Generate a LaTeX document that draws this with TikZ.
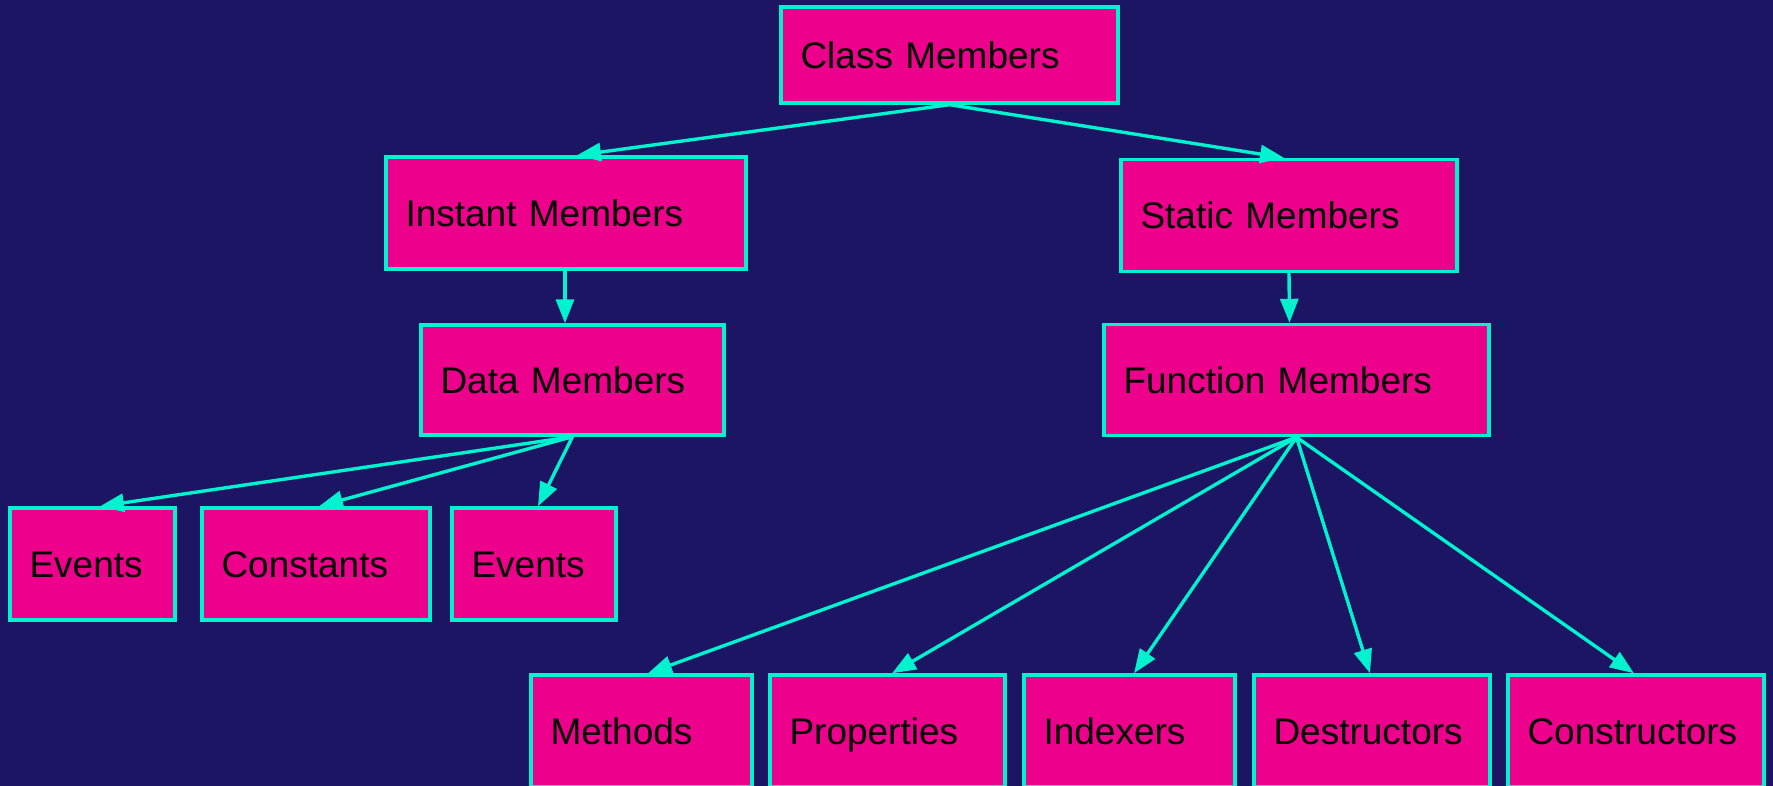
\documentclass[tikz,border=0pt]{standalone}
\usepackage{fontspec}
\setmainfont{Liberation Sans}
\usetikzlibrary{arrows.meta}
\definecolor{bgnavy}{HTML}{1B1564}
\definecolor{boxpink}{HTML}{EC008C}
\definecolor{edgeaqua}{HTML}{00F2CE}
\begin{document}
\begin{tikzpicture}[x=0.5pt,y=-0.5pt,
  member/.style={draw=edgeaqua, fill=boxpink, line width=1.7pt, rectangle,
    inner xsep=9pt, inner ysep=0pt, align=left, text=black,
    font=\fontsize{18.5}{22}\selectfont, minimum height=56pt,
    text height=17.3pt, text depth=4pt},
  link/.style={draw=edgeaqua, line width=1.7pt,
    -{Triangle[length=12pt,width=9pt]}}]
  % canvas
  \fill[bgnavy] (0,0) rectangle (1773,786);
  \clip (0,0) rectangle (1773,786);

  % hierarchy of members
  \node[member, minimum width=168.5pt, minimum height=48pt, text width=149pt] (cm) at (949.5,55) {Class Members};
  \node[member, minimum width=180pt, text width=160.5pt] (im) at (566,213) {Instant Members};
  \node[member, minimum width=168pt, text width=148.5pt] (sm) at (1289,215.5) {Static Members};
  \node[member, minimum width=151.5pt, minimum height=55pt, text width=132pt] (dm) at (572.5,380) {Data Members};
  \node[member, minimum width=192.5pt, minimum height=55.5pt, text width=173pt] (fm) at (1296.5,380) {Function Members};

  \node[member, minimum width=82.5pt, text width=63pt] (ev1) at (92.5,564) {Events};
  \node[member, minimum width=114pt, text width=94.5pt] (co) at (316,564) {Constants};
  \node[member, minimum width=82pt, text width=62.5pt] (ev2) at (534,564) {Events};

  \node[member, minimum width=110.5pt, text width=91pt] (me) at (641.5,731) {Methods};
  \node[member, minimum width=117.5pt, text width=98pt] (pr) at (887.5,731) {Properties};
  \node[member, minimum width=105.5pt, text width=86pt] (ix) at (1129.5,731) {Indexers};
  \node[member, minimum width=118pt, text width=98.5pt] (de) at (1372,731) {Destructors};
  \node[member, minimum width=128pt, text width=108.5pt] (cs) at (1636,731) {Constructors};

  % connectors
  \draw[link] (cm.south) -- ([xshift=5.5pt]im.north);
  \draw[link] (cm.south) -- ([xshift=-2.5pt]sm.north);
  \draw[link] ([xshift=-0.5pt]im.south) -- ([xshift=-3.75pt]dm.north);
  \draw[link] (sm.south) -- ([xshift=-3.5pt]fm.north);

  \draw[link] (dm.south) -- ([xshift=3.75pt]ev1.north);
  \draw[link] (dm.south) -- ([xshift=1.5pt]co.north);
  \draw[link] (dm.south) -- ([xshift=2pt]ev2.north);

  \draw[link] (fm.south) -- ([xshift=3.25pt]me.north);
  \draw[link] (fm.south) -- ([xshift=2.25pt]pr.north);
  \draw[link] (fm.south) -- ([xshift=2.25pt]ix.north);
  \draw[link] (fm.south) -- ([xshift=-1pt]de.north);
  \draw[link] (fm.south) -- ([xshift=-1pt]cs.north);
\end{tikzpicture}
\end{document}
